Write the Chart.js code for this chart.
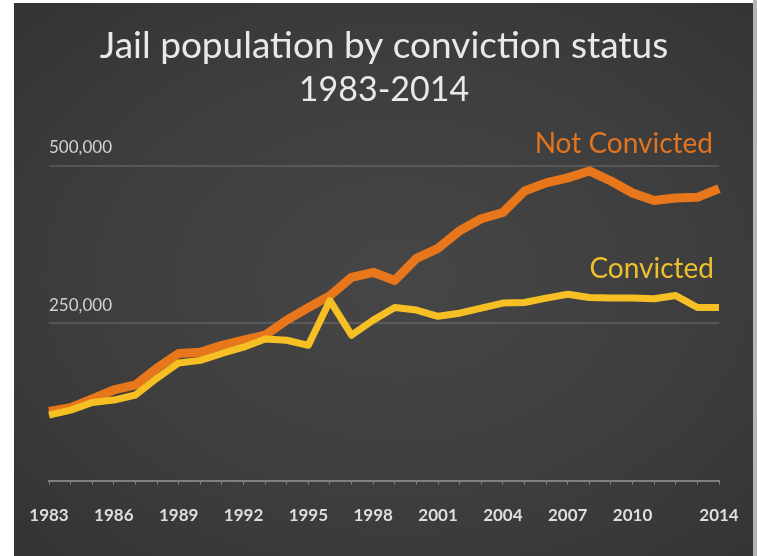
<!DOCTYPE html>
<html>
<head>
<meta charset="utf-8">
<script src="https://cdn.jsdelivr.net/npm/chart.js@4"></script>
<style>
  html, body { margin: 0; padding: 0; background: #ffffff; }
  body { width: 757px; height: 556px; position: relative; overflow: hidden; }
  #edge { position: absolute; left: 753px; top: 0; width: 4px; height: 556px; background: #b5b5b5; }
  #panel {
    position: absolute; left: 14px; top: 3px; width: 739px; height: 553px;
    background: radial-gradient(ellipse at 52% 50%, #464646 0%, #3e3e3e 55%, #333333 100%);
  }
</style>
</head>
<body>
<div id="edge"></div>
<div id="panel"><canvas id="jailChart" width="739" height="553"></canvas></div>
<script>
const years = [
  "1983", "1984", "1985", "1986", "1987", "1988", "1989", "1990", "1991", "1992", "1993",
  "1994", "1995", "1996", "1997", "1998", "1999", "2000", "2001", "2002", "2003", "2004",
  "2005", "2006", "2007", "2008", "2009", "2010", "2011", "2012", "2013", "2014"
];
const shownYears = ["1983", "1986", "1989", "1992", "1995", "1998", "2001", "2004", "2007", "2010", "2014"];

const notConvicted = [
  110000, 116000, 130000, 144000, 152000, 179000, 202000, 204000, 215000, 223000, 231000,
  255000, 275000, 294000, 323000, 331000, 318000, 353000, 369000, 397000, 416000, 426000,
  460000, 473000, 481000, 492000, 476000, 457000, 445000, 449000, 450000, 464000
];
const convicted = [
  104000, 112000, 124000, 128000, 136000, 163000, 187000, 191000, 202000, 212000, 225000,
  223000, 215000, 286000, 231000, 255000, 275000, 271000, 261000, 266000, 274000, 282000,
  283000, 290000, 296000, 291000, 290000, 290000, 289000, 294000, 275000, 275000
];
const yTicks = [0, 250000, 500000];

const ORANGE = "#e8761b";
const YELLOW = "#f6c024";
const FONT = "Lato, 'Open Sans', sans-serif";

// series names sit just above the right end of each line
const seriesLabels = {
  id: "seriesLabels",
  afterDatasetsDraw(chart) {
    const { ctx, chartArea, scales } = chart;
    ctx.save();
    ctx.font = `400 28px ${FONT}`;
    ctx.textAlign = "right";
    ctx.textBaseline = "middle";
    ctx.fillStyle = "#e2741f";
    ctx.fillText("Not Convicted", chartArea.right - 6, scales.y.getPixelForValue(500000) - 22);
    ctx.fillStyle = "#ecc02c";
    ctx.fillText("Convicted", chartArea.right - 5, scales.y.getPixelForValue(337000));
    ctx.restore();
  }
};

new Chart(document.getElementById("jailChart"), {
  type: "line",
  data: {
    labels: years,
    datasets: [
      {
        label: "Convicted",
        data: convicted,
        borderColor: YELLOW,
        borderWidth: 7,
        pointRadius: 0,
        tension: 0,
        borderJoinStyle: "round",
        borderCapStyle: "butt",
        order: 0
      },
      {
        label: "Not Convicted",
        data: notConvicted,
        borderColor: ORANGE,
        borderWidth: 9,
        pointRadius: 0,
        tension: 0,
        borderJoinStyle: "round",
        borderCapStyle: "butt",
        order: 1
      }
    ]
  },
  options: {
    responsive: false,
    animation: false,
    clip: false,
    layout: { padding: { left: 35, right: 34, top: 0, bottom: 9 } },
    plugins: {
      legend: { display: false },
      tooltip: { enabled: false },
      title: {
        display: true,
        text: "Jail population by conviction status",
        color: "#e9e9e9",
        font: { family: FONT, size: 37, weight: "400", lineHeight: 1.2 },
        padding: { top: 21, bottom: 0 }
      },
      subtitle: {
        display: true,
        text: "1983-2014",
        color: "#e9e9e9",
        font: { family: FONT, size: 34, weight: "400", lineHeight: 1.25 },
        padding: { top: 0, bottom: 55 }
      }
    },
    scales: {
      x: {
        type: "category",
        border: { display: true, color: "#808080", width: 2 },
        grid: {
          drawOnChartArea: false,
          drawTicks: true,
          tickLength: 4,
          tickColor: "#808080",
          tickWidth: 1
        },
        ticks: {
          autoSkip: false,
          maxRotation: 0,
          padding: 13,
          color: "#dedede",
          font: { family: FONT, size: 17, weight: "700", lineHeight: 2.14 },
          callback(value) {
            const y = years[value];
            return shownYears.includes(y) ? y : "";
          }
        }
      },
      y: {
        min: 0,
        max: 500000,
        afterBuildTicks(axis) {
          axis.ticks = yTicks.map((v) => ({ value: v }));
        },
        border: { display: false },
        grid: {
          drawTicks: false,
          lineWidth: 2,
          color: (c) => (c.tick && c.tick.value === 0 ? "rgba(0,0,0,0)" : "rgba(255,255,255,0.13)")
        },
        ticks: {
          mirror: true,
          padding: 0,
          labelOffset: -18,
          color: "#d2d2d2",
          font: { family: FONT, size: 17, weight: "400" },
          callback(value) {
            return value === 0 ? "" : value.toLocaleString("en-US");
          }
        }
      }
    }
  },
  plugins: [seriesLabels]
});
</script>
</body>
</html>
